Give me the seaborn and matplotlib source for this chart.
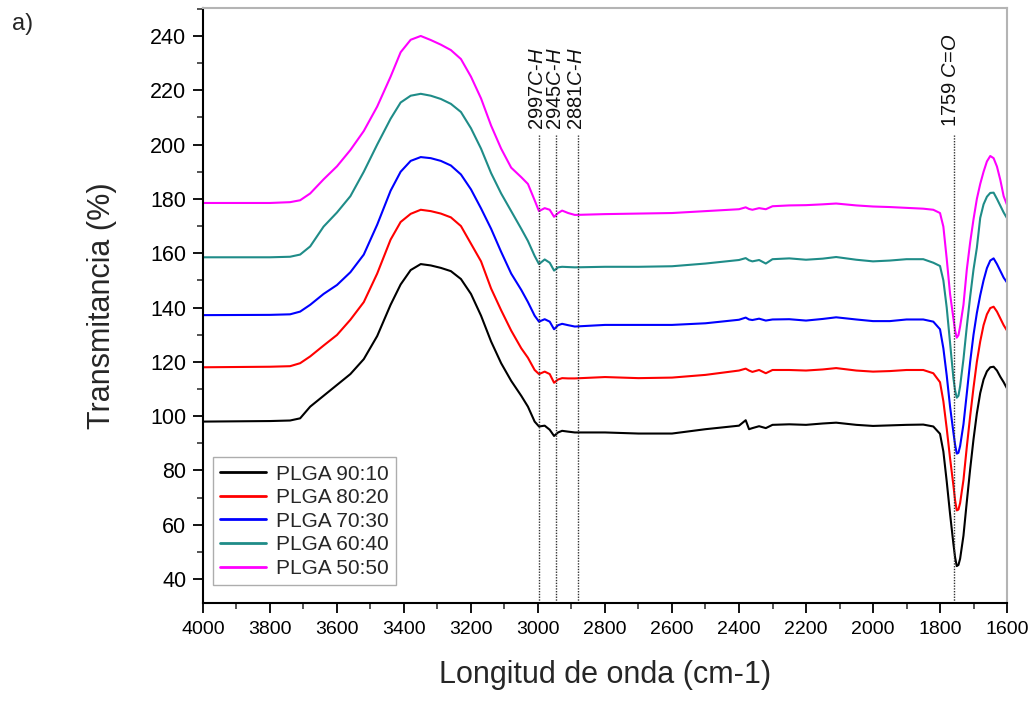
import matplotlib
matplotlib.use("Agg")
import matplotlib.pyplot as plt
import seaborn as sns
import pandas as pd
from matplotlib.ticker import MultipleLocator

# ---------------- data ----------------
wavenumber = [4000, 3800, 3740, 3710, 3680, 3640, 3600, 3560, 3520, 3480, 3440, 3410, 3380, 3350,
              3320, 3290, 3260, 3230, 3200, 3170, 3140, 3110, 3080, 3050, 3030, 3010, 2997, 2980,
              2965, 2952, 2940, 2928, 2910, 2890, 2800, 2700, 2600, 2500, 2400, 2380, 2370, 2360,
              2340, 2320, 2300, 2250, 2200, 2150, 2110, 2050, 2000, 1950, 1900, 1850, 1820, 1800,
              1790, 1780, 1770, 1760, 1755, 1750, 1745, 1740, 1730, 1720, 1710, 1700, 1690, 1680,
              1670, 1660, 1650, 1640, 1630, 1620, 1610, 1600]

plga_90_10 = [98, 98.2, 98.4, 99.2, 103.5, 107.5, 111.5, 115.5, 121, 129.5, 141, 148.5, 153.8, 156,
              155.5, 154.6, 153.4, 150.5, 145, 137, 127.5, 119.5, 113, 107.5, 103.5, 98, 96.2, 96.5,
              95, 92.7, 94, 94.6, 94.3, 94, 94, 93.6, 93.6, 95.2, 96.5, 98.5, 95.2, 95.6,
              96.3, 95.6, 96.8, 97, 96.8, 97.3, 97.6, 96.8, 96.4, 96.6, 96.8, 96.9, 96.2, 93.5,
              87, 76, 64, 53, 48, 44.8, 45.2, 47.5, 56, 68.5, 80.5, 91.5, 101, 108.5,
              113.5, 116.5, 118, 118.2, 116.8, 114.5, 112.5, 110.2]

plga_80_20 = [118, 118.2, 118.4, 119.5, 122, 126, 129.9, 135.5, 142, 152.5, 165, 171.5, 174.5, 176,
              175.5, 174.6, 173.2, 170, 163.5, 157, 147, 139, 131.5, 125, 121.5, 117, 115.5, 116.4,
              115.5, 112.3, 113.5, 114, 113.9, 113.9, 114.4, 114, 114.2, 115.2, 116.8, 117.5, 116.8, 116.3,
              117, 115.8, 117, 117, 116.8, 117.2, 117.7, 116.8, 116.4, 116.6, 117, 117, 115.8, 112.5,
              105.5, 95.5, 84.5, 74.5, 69, 65.3, 65.6, 68, 76.5, 88.7, 100, 110.5, 120, 127.5,
              133.5, 137.5, 139.8, 140.3, 138.5, 136, 133.5, 131.5]

plga_70_30 = [137.2, 137.3, 137.5, 138.5, 141, 145, 148.3, 153, 159.5, 170.5, 183, 190, 194, 195.4,
              195, 194, 192.3, 189, 183.5, 176.5, 169, 160.5, 152.5, 146.5, 142, 137, 134.8, 135.7,
              134.8, 132, 133.5, 134, 133.5, 133, 133.6, 133.6, 133.6, 134.2, 135.5, 136.3, 135.6, 135.4,
              135.9, 135.2, 135.6, 135.7, 135.2, 135.8, 136.4, 135.6, 135, 135, 135.6, 135.6, 134.8, 132,
              125, 115, 103.5, 94, 89.5, 86.2, 86.5, 89, 97, 108.4, 120, 130, 138, 144.5,
              150, 154.5, 157.3, 158.1, 156, 153.5, 151, 149.2]

plga_60_40 = [158.5, 158.5, 158.7, 159.5, 162.5, 169.8, 175, 181, 190, 200, 209.5, 215.5, 218, 218.7,
              218, 216.8, 215, 212, 206, 198.5, 189.5, 182, 175.5, 169, 164.5, 159, 156, 157.7,
              156.5, 153.6, 154.8, 155, 154.9, 154.8, 155, 155, 155.2, 156.2, 157.5, 158.2, 157.4, 157,
              157.5, 156.2, 157.8, 158.1, 157.6, 158, 158.6, 157.6, 157, 157.3, 157.8, 157.8, 156.5, 155.3,
              150, 140, 127, 114, 109.5, 106.8, 107.5, 111, 121, 133, 144, 154, 162, 173,
              178, 180.8, 182.2, 182.3, 180, 177.5, 175, 172.9]

plga_50_50 = [178.5, 178.5, 178.8, 179.5, 182, 187.2, 192, 198, 205, 214, 225, 234, 238.6, 240,
              238.5, 236.8, 234.8, 231.5, 225, 217, 207, 198.5, 191.5, 188, 185.5, 179.5, 175.5, 176.6,
              176, 173.4, 174.8, 175.7, 174.8, 174.1, 174.4, 174.6, 174.8, 175.5, 176.2, 176.9, 176.3, 176,
              176.6, 176.2, 177.3, 177.6, 177.7, 178, 178.3, 177.6, 177.2, 177, 176.7, 176.4, 176, 174.8,
              169.8, 158, 145, 136, 131.5, 128.9, 129.8, 133, 141, 154, 164, 172.5, 180, 185.5,
              190, 193.8, 195.8, 195, 191.9, 187, 181, 177.8]

series_names = ["PLGA 90:10", "PLGA 80:20", "PLGA 70:30", "PLGA 60:40", "PLGA 50:50"]
series_values = [plga_90_10, plga_80_20, plga_70_30, plga_60_40, plga_50_50]
series_colors = ["#000000", "#ff0000", "#0000ff", "#1f8c88", "#ff00ff"]

band_positions = [2997, 2945, 2881, 1759]
band_labels = ["2997$\\mathit{C}$-$\\mathit{H}$", "2945$\\mathit{C}$-$\\mathit{H}$",
               "2881$\\mathit{C}$-$\\mathit{H}$", "1759 $\\mathit{C}$=$\\mathit{O}$"]
band_label_sizes = [14.5, 14.5, 14.5, 14.5]

x_ticks = [4000, 3800, 3600, 3400, 3200, 3000, 2800, 2600, 2400, 2200, 2000, 1800, 1600]
y_ticks = [40, 60, 80, 100, 120, 140, 160, 180, 200, 220, 240]

# ---------------- build table ----------------
frames = []
for name, vals in zip(series_names, series_values):
    frames.append(pd.DataFrame({"wn": wavenumber, "T": vals, "serie": name}))
df = pd.concat(frames, ignore_index=True)

sns.set_style("ticks")
plt.rcParams["font.family"] = ["Liberation Sans", "DejaVu Sans"]
plt.rcParams["mathtext.fontset"] = "custom"
plt.rcParams["mathtext.rm"] = "Liberation Sans"
plt.rcParams["mathtext.it"] = "Liberation Sans:italic"

fig = plt.figure(figsize=(10.34, 7.07), dpi=100)
ax = fig.add_axes([0.1963, 0.1471, 0.7776, 0.8416])

sns.lineplot(data=df, x="wn", y="T", hue="serie", hue_order=series_names,
             palette=dict(zip(series_names, series_colors)), sort=False,
             estimator=None, linewidth=1.5, ax=ax)

ax.set_xlim(4000, 1600)
ax.set_ylim(31.2, 250.3)

# dotted band markers
for pos, lab, fs in zip(band_positions, band_labels, band_label_sizes):
    ax.plot([pos, pos], [31.2, 203.5], color="#333333", linestyle=(0, (1, 1)), linewidth=1.0)
    ax.text(pos + (4 if pos > 2000 else 10), 205.5 if pos > 2000 else 206.5, lab,
            rotation=90, ha="center", va="bottom", fontsize=fs, color="#111111")

ax.set_xticks(x_ticks)
ax.set_yticks(y_ticks)
ax.xaxis.set_minor_locator(MultipleLocator(100))
ax.yaxis.set_minor_locator(MultipleLocator(10))
ax.tick_params(axis="both", which="major", direction="out", length=7, width=1.3, colors="black")
ax.tick_params(axis="x", which="major", labelsize=14, pad=6)
ax.tick_params(axis="y", which="major", labelsize=15.5, pad=5)
ax.tick_params(axis="both", which="minor", direction="out", length=4, width=1.1)

for side in ["left", "bottom"]:
    ax.spines[side].set_linewidth(1.5)
    ax.spines[side].set_color("black")
for side in ["top", "right"]:
    ax.spines[side].set_visible(True)
    ax.spines[side].set_linewidth(1.5)
    ax.spines[side].set_color("#b4b4b4")

ax.set_xlabel("Longitud de onda (cm-1)", fontsize=22, labelpad=16)
ax.set_ylabel("Transmitancia (%)", fontsize=22, labelpad=24)

leg = ax.legend(loc="lower left", bbox_to_anchor=(0.012, 0.03), fontsize=15,
                frameon=True, fancybox=False, handlelength=2.2, borderpad=0.35,
                labelspacing=0.22, handletextpad=0.5, borderaxespad=0.0)
leg.get_frame().set_edgecolor("#999999")
leg.get_frame().set_linewidth(1.0)
for line in leg.get_lines():
    line.set_linewidth(2.0)

fig.text(0.012, 0.982, "a)", fontsize=17, ha="left", va="top")

fig.savefig("out.png", dpi=100)
